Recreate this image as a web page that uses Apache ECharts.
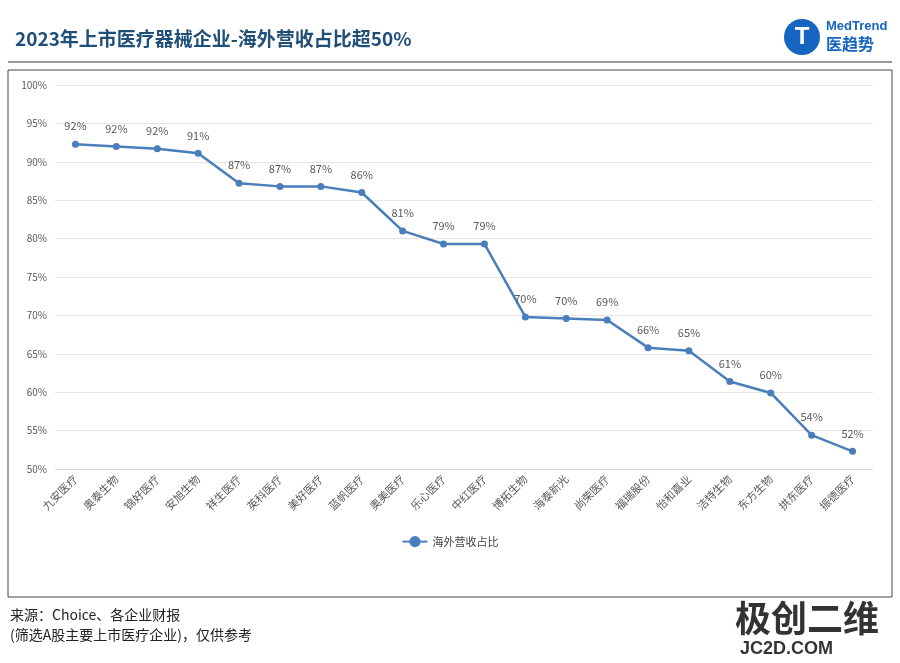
<!DOCTYPE html>
<html><head><meta charset="utf-8">
<script src="https://cdn.jsdelivr.net/npm/echarts@6/dist/echarts.min.js"></script>
<style>body{margin:0;background:#fff}#c{width:900px;height:663px}</style>
</head><body><div id="c"></div>
<script>
const categories=['九安医疗','奥泰生物','锦好医疗','安旭生物','祥生医疗','英科医疗','美好医疗','蓝帆医疗','奥美医疗','乐心医疗','中红医疗','博拓生物','海泰新光','尚荣医疗','福瑞股份','怡和嘉业','洁特生物','东方生物','拱东医疗','振德医疗'];
const shares=[92.3,92.0,91.7,91.1,87.2,86.8,86.8,86.0,81.0,79.3,79.3,69.8,69.6,69.4,65.8,65.4,61.4,59.9,54.4,52.3];
const seriesName='海外营收占比';
const F='"Noto Sans CJK SC","Noto Sans",sans-serif';
const chart=echarts.init(document.getElementById('c'));
chart.setOption({
 animation:false,
 textStyle:{fontFamily:F},
 title:{text:'2023年上市医疗器械企业-海外营收占比超50%',left:10,top:24,textStyle:{color:'#1f4e79',fontSize:19,fontWeight:'bold',fontFamily:F}},
 graphic:[
  {type:'rect',shape:{x:8,y:70,width:884,height:527},style:{fill:'none',stroke:'#444',lineWidth:1}},
  {type:'line',shape:{x1:8,y1:62,x2:892,y2:62},style:{stroke:'#333',lineWidth:1}},
  {type:'circle',shape:{cx:802,cy:37,r:18},style:{fill:'#1565c0'}},
  {type:'text',style:{x:802,y:37,text:'T',fill:'#fff',font:'bold 24px sans-serif',align:'center',verticalAlign:'middle'}},
  {type:'text',style:{x:826,y:20,text:'MedTrend',fill:'#1565c0',font:'bold 13px sans-serif'}},
  {type:'text',style:{x:826,y:36,text:'医趋势',fill:'#1565c0',font:'bold 16px '+F}},
  {type:'text',style:{x:10,y:608,text:'来源：Choice、各企业财报',fill:'#222',font:'14px '+F}},
  {type:'text',style:{x:10,y:628,text:'(筛选A股主要上市医疗企业)，仅供参考',fill:'#222',font:'14px '+F}},
  {type:'text',style:{x:735,y:600,text:'极创二维',fill:'#333',font:'bold 36px '+F}},
  {type:'text',style:{x:740,y:640,text:'JC2D.COM',fill:'#333',font:'bold 18px sans-serif'}}
 ],
 legend:{data:[seriesName],top:531,left:'center',textStyle:{fontSize:11,color:'#444'}},
 grid:{left:55,right:27,top:85,bottom:194,containLabel:false},
 xAxis:{type:'category',data:categories,boundaryGap:true,axisLine:{lineStyle:{color:'#d9d9d9'}},axisTick:{show:false},
  axisLabel:{rotate:45,color:'#595959',fontSize:11,interval:0}},
 yAxis:{type:'value',min:50,max:100,interval:5,axisLabel:{formatter:'{value}%',color:'#595959',fontSize:10},
  axisLine:{show:false},axisTick:{show:false},splitLine:{lineStyle:{color:'#e6e6e6'}}},
 series:[{name:seriesName,type:'line',data:shares,symbol:'circle',symbolSize:7,
  lineStyle:{color:'#4a7ebb',width:2.5},itemStyle:{color:'#4a7ebb'},
  label:{show:true,position:'top',distance:9,color:'#595959',fontSize:11,formatter:p=>Math.round(p.value)+'%'}}]
});
</script></body></html>
